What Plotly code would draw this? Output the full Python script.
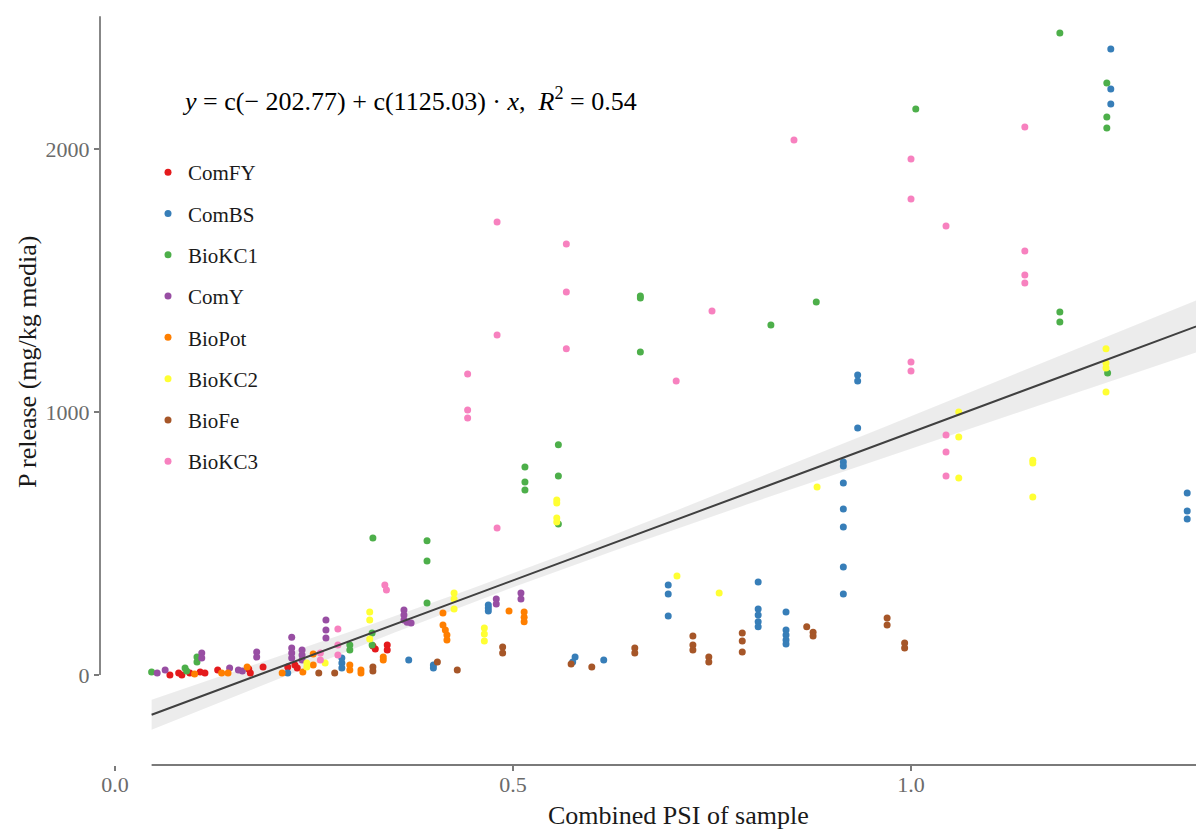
import numpy as np
import plotly.graph_objects as go

# ---------------- data ----------------
groups = ["ComFY", "ComBS", "BioKC1", "ComY", "BioPot", "BioKC2", "BioFe", "BioKC3"]
colors = ["#E41A1C", "#377EB8", "#4DAF4A", "#984EA3", "#FF7F00", "#FFFF33", "#A65628", "#F781BF"]

comfy_x = [0.069, 0.080, 0.084, 0.094, 0.107, 0.113, 0.129, 0.170, 0.168, 0.186, 0.217, 0.226, 0.229,
           0.324, 0.327, 0.342, 0.342]
comfy_y = [0, 8, 0, 8, 11, 8, 19, 8, 23, 30, 30, 38, 27, 110, 99, 114, 95]

combs_x = [0.217, 0.285, 0.285, 0.285, 0.369, 0.400, 0.400, 0.469, 0.469, 0.469, 0.578, 0.575, 0.614,
           0.695, 0.695, 0.695, 0.808, 0.808, 0.808, 0.808, 0.808, 0.843, 0.843, 0.843, 0.843, 0.843,
           0.915, 0.915, 0.915, 0.915, 0.915, 0.915, 0.915, 0.933, 0.933, 0.933,
           1.251, 1.251, 1.251, 1.347, 1.347, 1.347]
combs_y = [8, 65, 46, 27, 57, 38, 27, 266, 255, 243, 68, 49, 57,
           342, 308, 224, 354, 251, 228, 202, 183, 240, 171, 152, 133, 118,
           810, 795, 730, 631, 563, 411, 308, 1141, 1118, 939,
           2380, 2228, 2171, 692, 624, 593]

biokc1_x = [0.046, 0.088, 0.090, 0.103, 0.103, 0.295, 0.295, 0.323, 0.323, 0.324, 0.392, 0.392, 0.392,
            0.515, 0.515, 0.515, 0.557, 0.557, 0.557, 0.660, 0.660, 0.660, 0.824, 0.881, 1.006,
            1.187, 1.187, 1.187, 1.246, 1.246, 1.246, 1.247]
biokc1_y = [11, 27, 15, 68, 49, 114, 95, 160, 114, 521, 510, 433, 274,
            791, 734, 703, 875, 757, 574, 1441, 1433, 1228, 1331, 1418, 2152,
            2441, 1380, 1342, 2251, 2122, 2080, 1148]

comy_x = [0.053, 0.063, 0.109, 0.109, 0.144, 0.155, 0.160, 0.178, 0.178, 0.222, 0.222, 0.222, 0.222,
          0.235, 0.235, 0.235, 0.265, 0.265, 0.265, 0.363, 0.363, 0.363, 0.367, 0.372,
          0.479, 0.479, 0.510, 0.510]
comy_y = [8, 19, 84, 65, 27, 19, 15, 87, 68, 144, 103, 84, 65,
          95, 76, 57, 209, 171, 141, 247, 228, 209, 201, 198,
          289, 270, 312, 289]

biopot_x = [0.100, 0.134, 0.142, 0.166, 0.210, 0.236, 0.249, 0.249, 0.295, 0.295, 0.309, 0.309,
            0.337, 0.337, 0.412, 0.412, 0.415, 0.417, 0.417, 0.495, 0.514, 0.514, 0.514]
biopot_y = [4, 8, 8, 30, 8, 11, 80, 38, 38, 19, 19, 8,
            68, 57, 236, 190, 171, 152, 133, 243, 240, 220, 202]

biokc2_x = [0.241, 0.241, 0.264, 0.320, 0.320, 0.320, 0.426, 0.426, 0.426, 0.464, 0.464, 0.464,
            0.555, 0.555, 0.555, 0.555, 0.706, 0.759, 0.882, 1.060, 1.060, 1.060,
            1.153, 1.153, 1.153, 1.245, 1.245, 1.245, 1.245]
biokc2_y = [46, 30, 46, 240, 209, 137, 312, 289, 251, 179, 156, 129,
            665, 654, 597, 582, 376, 312, 715, 1000, 905, 749,
            817, 806, 677, 1240, 1186, 1167, 1076]

biofe_x = [0.256, 0.276, 0.324, 0.324, 0.405, 0.430, 0.487, 0.487, 0.573, 0.599, 0.653, 0.653,
           0.726, 0.726, 0.726, 0.746, 0.746, 0.788, 0.788, 0.788, 0.869, 0.877, 0.877,
           0.970, 0.970, 0.992, 0.992]
biofe_y = [8, 8, 30, 15, 49, 19, 106, 84, 42, 30, 103, 84,
           148, 114, 95, 68, 49, 160, 129, 87, 183, 163, 148,
           217, 190, 122, 103]

biokc3_x = [0.258, 0.258, 0.280, 0.280, 0.280, 0.339, 0.341, 0.443, 0.443, 0.443, 0.480, 0.480, 0.480,
            0.567, 0.567, 0.567, 0.705, 0.750, 0.853, 1.000, 1.000, 1.000, 1.000,
            1.044, 1.044, 1.044, 1.044, 1.143, 1.143, 1.143, 1.143]
biokc3_y = [84, 57, 175, 114, 76, 342, 323, 1144, 1008, 977, 1722, 1293, 559,
            1639, 1456, 1240, 1118, 1384, 2034, 1962, 1810, 1190, 1156,
            1707, 913, 848, 757, 2084, 1612, 1521, 1490]

xs = [comfy_x, combs_x, biokc1_x, comy_x, biopot_x, biokc2_x, biofe_x, biokc3_x]
ys = [comfy_y, combs_y, biokc1_y, comy_y, biopot_y, biokc2_y, biofe_y, biokc3_y]

# regression (coefficients printed on the chart) and its band
INTERCEPT = -202.77
SLOPE = 1125.03
R2 = 0.54
SE_AT_MEAN = 13.5
X_MEAN = 0.50
X_SD = 0.24
T_CRIT = 1.97
SMOOTH_X_MAX = 1.40
Y_FRAME_MAX = 2505       # top of the y range-frame line

# ---------------- figure ----------------
fig = go.Figure()

all_x = np.concatenate([np.array(v, float) for v in xs])
all_y = np.concatenate([np.array(v, float) for v in ys])
xmin = all_x.min()

xg = np.linspace(xmin, SMOOTH_X_MAX, 200)
fit = INTERCEPT + SLOPE * xg
se = SE_AT_MEAN * np.sqrt(1 + ((xg - X_MEAN) / X_SD) ** 2)
lo = fit - T_CRIT * se
hi = fit + T_CRIT * se

fig.add_trace(go.Scatter(x=xg, y=lo, mode="lines", line=dict(width=0, color="rgba(0,0,0,0)"),
                         showlegend=False, hoverinfo="skip"))
fig.add_trace(go.Scatter(x=xg, y=hi, mode="lines", line=dict(width=0, color="rgba(0,0,0,0)"),
                         fill="tonexty", fillcolor="rgba(0,0,0,0.075)", showlegend=False,
                         hoverinfo="skip"))

for name, col, x, y in zip(groups, colors, xs, ys):
    fig.add_trace(go.Scatter(x=x, y=y, mode="markers", name=name, legendgroup=name,
                             marker=dict(color=col, size=7, line=dict(width=0))))

fig.add_trace(go.Scatter(x=xg, y=fit, mode="lines", line=dict(color="#404040", width=2),
                         showlegend=False, hoverinfo="skip"))

W, H = 1196, 829
L, R, T, B = 100, 0, 0, 64
PW, PH = W - L - R, H - T - B


def px_x(p):
    return (p - L) / PW


def px_y(p):
    return (H - B - p) / PH


axis_grey = "#7a7a7a"
tick_font = dict(family="Liberation Serif", size=22, color="#6b6b6b")

fig.update_layout(
    width=W, height=H,
    margin=dict(l=L, r=R, t=T, b=B),
    plot_bgcolor="white", paper_bgcolor="white",
    font=dict(family="Liberation Serif", color="#1a1a1a"),
    xaxis=dict(range=[-0.01884, 1.35804], tickvals=[0, 0.5, 1.0], ticktext=["0.0", "0.5", "1.0"],
               ticks="outside", ticklen=5, tickwidth=1.5, tickcolor=axis_grey,
               ticklabelstandoff=-5,
               showgrid=False, zeroline=False, showline=False, tickfont=tick_font),
    yaxis=dict(range=[-342.2, 2566.5], tickvals=[0, 1000, 2000], ticktext=["0", "1000", "2000"],
               ticks="outside", ticklen=5, tickwidth=1.5, tickcolor=axis_grey,
               showgrid=False, zeroline=False, showline=False, tickfont=tick_font),
    legend=dict(x=px_x(148), y=px_y(152), xanchor="left", yanchor="top",
                font=dict(family="Liberation Serif", size=21, color="#1a1a1a"),
                bgcolor="rgba(0,0,0,0)", tracegroupgap=11, itemsizing="trace"),
    showlegend=True,
)

# range-frame axis lines
fig.add_shape(type="line", xref="x", yref="paper", x0=xmin, x1=1.36, y0=0, y1=0,
              line=dict(color=axis_grey, width=1.8))
fig.add_shape(type="line", xref="paper", yref="y", x0=0, x1=0, y0=all_y.min(), y1=Y_FRAME_MAX,
              line=dict(color=axis_grey, width=1.8))

fig.add_annotation(xref="paper", yref="paper", x=px_x(409), y=px_y(100), showarrow=False,
                   xanchor="center", yanchor="middle",
                   text=f"<i>y</i> = c(\u2212 {abs(INTERCEPT):.2f}) + c({SLOPE:.2f}) \u00b7 <i>x</i>,  "
                        f"<i>R</i><sup>2</sup> = {R2:.2f}",
                   font=dict(family="Liberation Serif", size=26, color="black"))
fig.add_annotation(xref="paper", yref="paper", x=px_x(678), y=px_y(815), showarrow=False,
                   text="Combined PSI of sample", xanchor="center", yanchor="middle",
                   font=dict(family="Liberation Serif", size=26, color="#1a1a1a"))
fig.add_annotation(xref="paper", yref="paper", x=px_x(27), y=px_y(362), showarrow=False,
                   text="P release (mg/kg media)", textangle=-90, xanchor="center",
                   yanchor="middle",
                   font=dict(family="Liberation Serif", size=26, color="#1a1a1a"))

fig.write_html("out.html", config={"displayModeBar": False},
               post_script="document.body.style.margin='0px';"
                           "document.body.style.overflow='hidden';")
